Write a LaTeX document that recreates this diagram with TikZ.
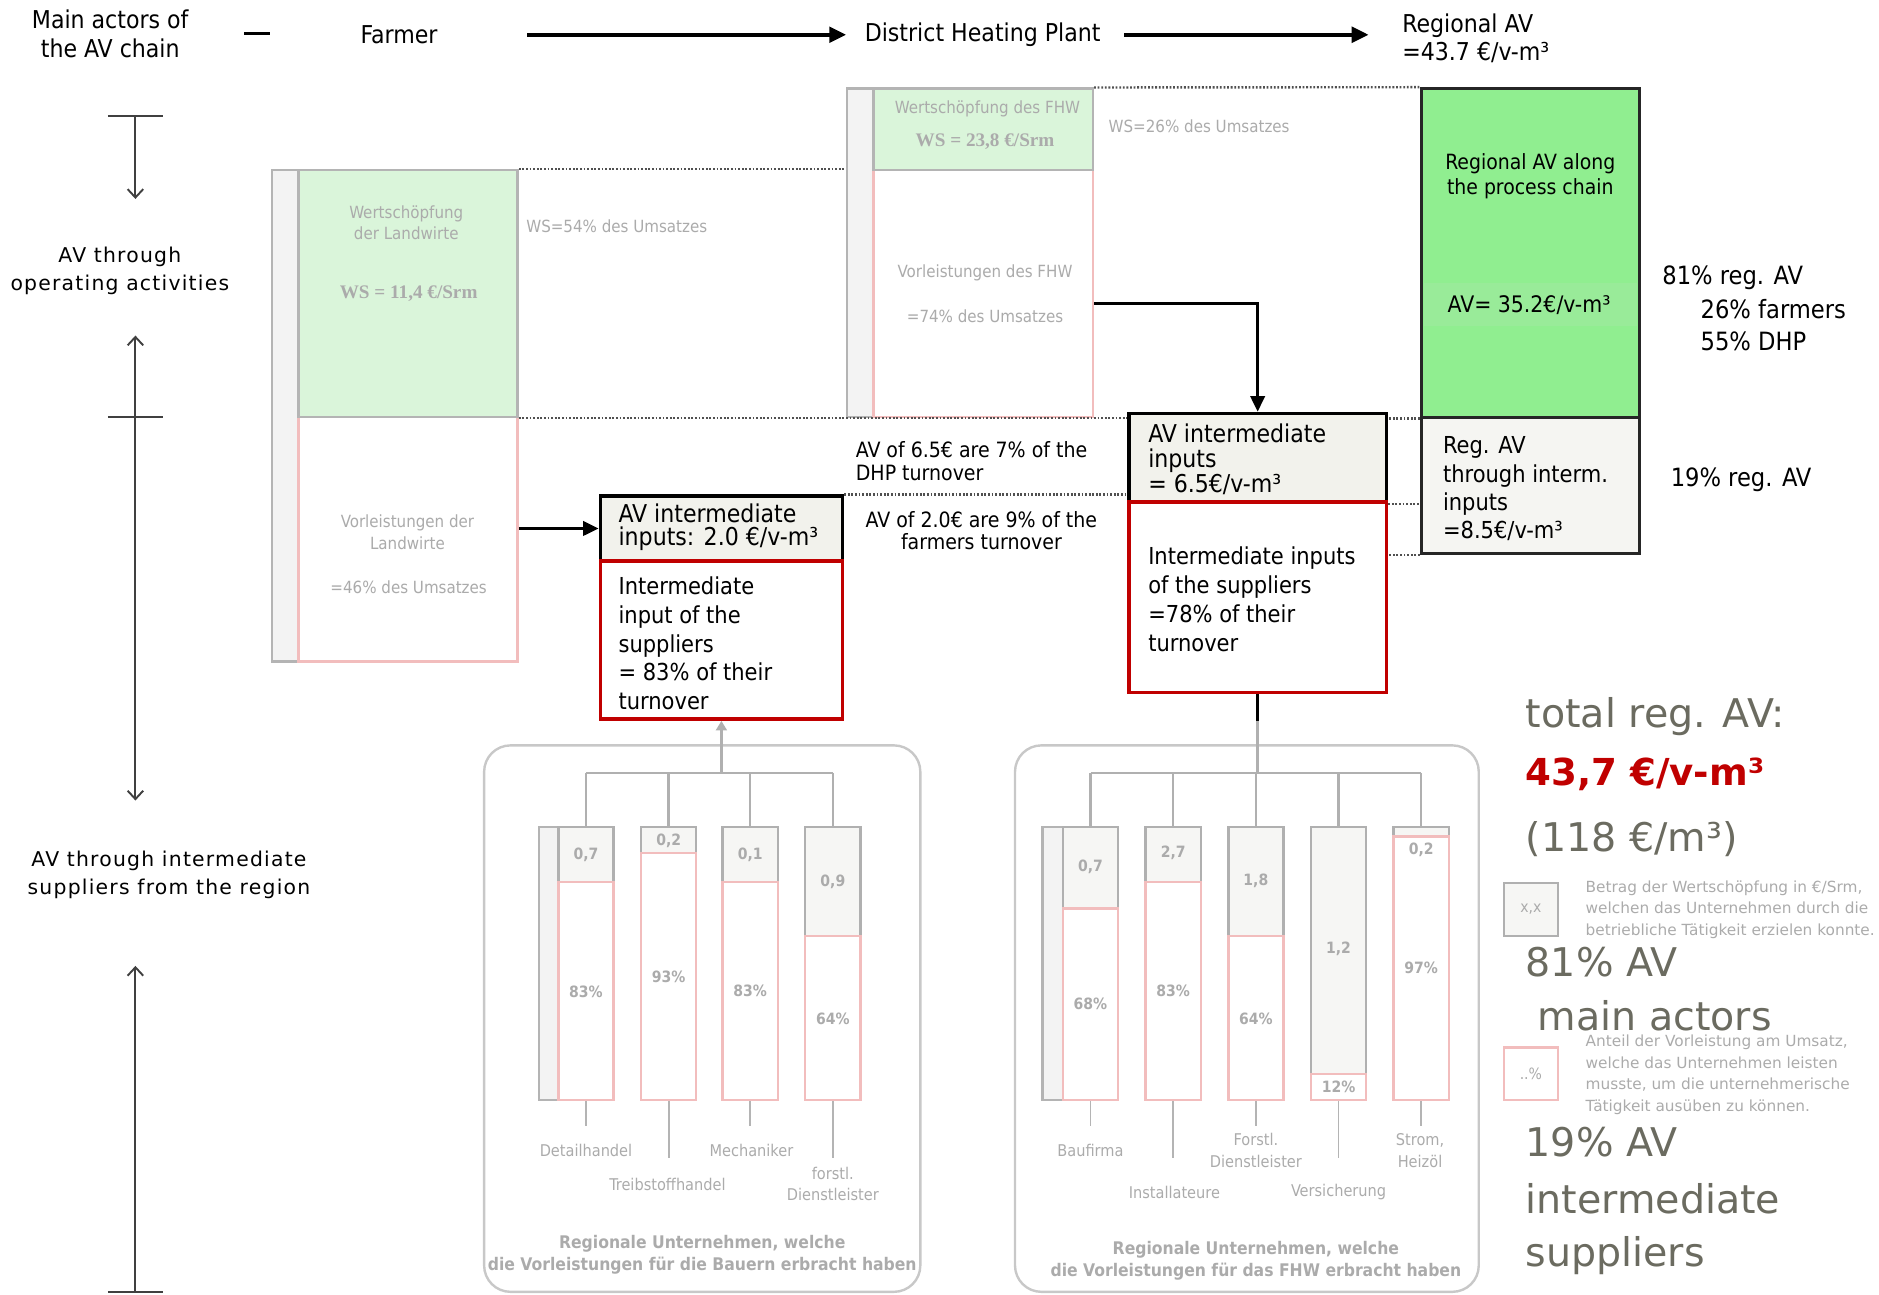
\documentclass[tikz,border=0pt]{standalone}
\usepackage{fontspec}
\setmainfont{DejaVu Sans}
\newfontfamily\condf{DejaVu Sans Condensed}
\newfontfamily\widef[LetterSpace=6]{DejaVu Sans}
\newfontfamily\serf{Liberation Serif}
\usetikzlibrary{arrows.meta,fit}
\newcommand{\myfs}[2]{\fontsize{#1}{#2}\selectfont}

\definecolor{fadetext}{HTML}{ABABAB}
\definecolor{fadeline}{HTML}{B4B4B4}
\definecolor{fadepink}{HTML}{F2BDBD}
\definecolor{palegreen}{HTML}{DAF5DA}
\definecolor{sliver}{HTML}{F3F3F3}
\definecolor{regreen}{HTML}{90EE90}
\definecolor{regband}{HTML}{99EB99}
\definecolor{boxfill}{HTML}{F2F2EC}
\definecolor{lowfill}{HTML}{F5F5F2}
\definecolor{darkred}{HTML}{C00000}
\definecolor{biggrey}{HTML}{6B6B60}
\definecolor{axisgrey}{HTML}{404040}
\definecolor{dotgrey}{HTML}{505050}
\definecolor{treegrey}{HTML}{B0B0B0}
\definecolor{panelgrey}{HTML}{C8C8C8}
\definecolor{barfill}{HTML}{F6F6F4}

\tikzset{
  every node/.style={inner sep=0pt},
  hdr/.style={font=\condf\myfs{20.5}{24}, align=center},
  lab/.style={font=\widef\myfs{17}{23}, align=center},
  fade/.style={text=fadetext, font=\condf\myfs{14}{18}, align=center},
  fadeb/.style={text=fadetext, font=\serf\bfseries\myfs{16}{18}},
  boxt/.style={font=\condf\myfs{19.5}{24}, align=left, anchor=west},
  midt/.style={font=\condf\myfs{17.6}{19}},
  pct/.style={font=\condf\myfs{21}{26}, anchor=west},
  big/.style={font=\myfs{33}{36}, text=biggrey, anchor=west},
  legt/.style={text=fadetext, font=\myfs{12.8}{18}, align=left, anchor=west},
  barnum/.style={text=fadetext, font=\condf\bfseries\myfs{13}{15}},
  barlab/.style={text=fadetext, font=\condf\myfs{13.5}{18}, align=center},
  capt/.style={text=fadetext, font=\condf\bfseries\myfs{14.5}{18}, align=center},
  greybox/.style={draw=fadeline, fill=sliver, line width=2pt},
  greenbox/.style={draw=fadeline, fill=palegreen, line width=2pt},
  pinkbox/.style={draw=fadepink, fill=white, line width=2pt},
  avbox/.style={draw=black, fill=boxfill, line width=3pt},
  redbox/.style={draw=darkred, fill=white, line width=3pt},
  regbox/.style={draw=black!85, fill=regreen, line width=2.5pt},
  reglow/.style={draw=black!85, fill=lowfill, line width=2.5pt},
  panel/.style={draw=panelgrey, line width=2pt, rounded corners=22pt},
  bartop/.style={draw=treegrey, fill=barfill, line width=2pt},
  barlow/.style={draw=fadepink, fill=white, line width=2pt},
  hdrarrow/.style={line width=3pt, -{Triangle[length=14pt,width=13pt]}},
  axis/.style={draw=axisgrey, line width=1.6pt},
  dotline/.style={draw=dotgrey, line width=2pt, dash pattern=on 1.5pt off 1.5pt},
  blkarrow/.style={line width=2.5pt, -{Triangle[length=13pt,width=12pt]}},
  tree/.style={draw=treegrey, line width=2pt},
  leader/.style={draw=fadeline, line width=1.5pt}
}

\begin{document}
\begin{tikzpicture}[x=1pt,y=-1pt]
\useasboundingbox (0,0) rectangle (1568,1080);

% ---------- header row ----------
\node[hdr] (mainact) at (92,28) {Main actors of\\the AV chain};
\node[hdr] (farmer) at (333,29) {Farmer};
\node[hdr] (dhp) at (820,29) {District Heating Plant};
\node[hdr, anchor=west, align=left] (regav) at (1170,32) {Regional AV\\=43.7 €/v-m³};
\coordinate (stubA) at (204,28);
\coordinate (stubB) at (225,28);
\draw[line width=3pt] (stubA) -- (stubB);
\draw[hdrarrow] (farmer.east -| 440,0) -- (farmer.east -| 706,0);
\draw[hdrarrow] (dhp.east -| 938,0) -- (dhp.east -| 1142,0);

% ---------- left axis ----------
\coordinate (ax1) at (113,97);
\coordinate (ax2) at (113,166);
\coordinate (ax3) at (113,280);
\coordinate (ax4) at (113,668);
\coordinate (ax5) at (113,806);
\coordinate (ax6) at (113,1078);
\draw[axis] (90,97) -- (136,97);
\draw[axis, -{Straight Barb[length=7pt,width=13pt]}] (ax1) -- (ax2);
\node[lab] (oplab) at (100,226) {AV through\\operating activities};
\draw[axis, {Straight Barb[length=7pt,width=13pt]}-{Straight Barb[length=7pt,width=13pt]}] (ax3) -- (ax4);
\draw[axis] (90,348) -- (136,348);
\node[lab] (suplab) at (141,730) {AV through intermediate\\suppliers from the region};
\draw[axis, {Straight Barb[length=7pt,width=13pt]}-] (ax5) -- (ax6);
\draw[axis] (90,1078) -- (136,1078);

% ---------- farmer block ----------
\node[greybox, fit={(227,142) (249,552)}] (fSliver) {};
\node[pinkbox, fit={(249,348) (432,552)}] (fPink) {};
\node[greenbox, fit={(249,142) (432,348)}] (fGreen) {};
\node[fade] (fWs) at (339,186) {Wertschöpfung\\der Landwirte};
\node[fadeb] (fWsv) at (341,245) {WS = 11,4 €/Srm};
\node[fade] (fVl) at (340,444) {Vorleistungen der\\Landwirte};
\node[fade] (fVlp) at (341,490) {=46\% des Umsatzes};
\node[fade, anchor=west] (fShare) at (439,189) {WS=54\% des Umsatzes};

% ---------- district heating plant block ----------
\node[greybox, fit={(707,74) (729,348)}] (dSliver) {};
\node[pinkbox, fit={(729,142) (912,348)}] (dPink) {};
\node[greenbox, fit={(729,74) (912,142)}] (dGreen) {};
\node[fade] (dWs) at (824,91) {Wertschöpfung des FHW};
\node[fadeb] (dWsv) at (822,118) {WS = 23,8 €/Srm};
\node[fade] (dVl) at (822,228) {Vorleistungen des FHW};
\node[fade] (dVlp) at (822,264) {=74\% des Umsatzes};
\node[fade, anchor=west] (dShare) at (925,105) {WS=26\% des Umsatzes};

% ---------- intermediate input boxes ----------
\node[avbox, fit={(501,414) (703,468)}] (i20) {};
\node[redbox, fit={(501,468) (703,600)}] (r20) {};
\node[boxt, font=\condf\myfs{20.5}{19}] (i20t) at (516,440) {AV intermediate\\inputs: 2.0 €/v-m³};
\node[boxt] (r20t) at (516,537) {Intermediate\\input of the\\suppliers\\= 83\% of their\\turnover};

\node[avbox, fit={(942,345) (1157,419)}] (i65) {};
\node[redbox, fit={(942,419) (1157,578)}] (r65) {};
\node[boxt, font=\condf\myfs{20.5}{21}] (i65t) at (958,383) {AV intermediate\\inputs\\= 6.5€/v-m³};
\node[boxt] (r65t) at (958,500) {Intermediate inputs\\of the suppliers\\=78\% of their\\turnover};

\node[midt, anchor=west, align=left] (dhpNote) at (714,385) {AV of 6.5€ are 7\% of the\\DHP turnover};
\node[midt, align=center, font=\condf\myfs{17.6}{18}] (farmNote) at (819,443) {AV of 2.0€ are 9\% of the\\farmers turnover};

% ---------- regional added value ----------
\node[regbox, fit={(1186,74) (1368,348)}] (regBox) {};
\fill[regband] (1188,236) rectangle (1366,272);
\node[font=\condf\myfs{17.5}{21}, align=center] (regAlong) at (1277,147) {Regional AV along\\the process chain};
\node[font=\condf\myfs{19}{21}] (regVal) at (1276,255) {AV= 35.2€/v-m³};
\node[reglow, fit={(1186,348) (1368,462)}] (regLow) {};
\node[boxt, font=\condf\myfs{19.5}{23.7}] (regLowt) at (1204,408) {Reg. AV\\through interm.\\inputs\\=8.5€/v-m³};

\node[pct] (p81) at (1387,232) {81\% reg. AV};
\node[pct] (p26) at (1419,258) {26\% farmers};
\node[pct] (p55) at (1419,285) {55\% DHP};
\node[pct] (p19) at (1394,400) {19\% reg. AV};

% ---------- dotted level lines ----------
\draw[dotline] (fGreen.north east) -- (fGreen.north east -| dSliver.west);
\draw[dotline] (fGreen.south east) -- (fGreen.south east -| i65.west);
\draw[dotline] (dGreen.north east) -- (regBox.north west);
\draw[dotline] (regBox.south west) -- (regBox.south west -| i65.east);
\draw[dotline] (i20.north east) -- (i20.north east -| i65.west);
\draw[dotline] (i65.south east) -- (i65.south east -| regLow.west);
\draw[dotline] (regLow.south west) -- (regLow.south west -| i65.east);

% ---------- flows into the intermediate boxes ----------
\draw[blkarrow] (fPink.east |- i20.west) -- (i20.west);
\draw[blkarrow] (dPink.east |- 0,253) -| (i65.north);

% ---------- supplier panel of the farmers ----------
\node[panel, fit={(404,622) (768,1078)}] (lPanel) {};
\node[greybox, fit={(450,690) (466,918)}] (lSliver) {};
\foreach \i/\cx/\gy/\num/\ny/\pc/\py in {1/489/736/{0,7}/713/83/828, 2/558/712/{0,2}/702/93/815, 3/626/736/{0,1}/713/83/827, 4/695/781/{0,9}/736/64/850} {
  \node[bartop, fit={(\cx-23,690) (\cx+23,\gy)}] (lt\i) {};
  \node[barlow, fit={(\cx-23,\gy) (\cx+23,918)}] (lb\i) {};
  \node[barnum] (ln\i) at (\cx,\ny) {\num};
  \node[barnum] (lp\i) at (\cx,\py) {\pc\%};
}
\coordinate (lStem) at (593,645);
\draw[tree, {Triangle[length=8pt,width=9pt]}-] (r20.south) -- (r20.south |- lStem);
\draw[tree] (lt1.north |- lStem) -- (lt4.north |- lStem);
\foreach \i in {1,...,4} { \draw[tree] (lt\i.north |- lStem) -- (lt\i.north); }
\node[barlab] (lL1) at (489,960) {Detailhandel};
\node[barlab] (lL2) at (557,988) {Treibstoffhandel};
\node[barlab] (lL3) at (627,960) {Mechaniker};
\node[barlab] (lL4) at (695,988) {forstl.\\Dienstleister};
\draw[leader] (lb1.south) -- (lb1.south |- 0,940);
\draw[leader] (lb2.south) -- (lb2.south |- 0,966);
\draw[leader] (lb3.south) -- (lb3.south |- 0,940);
\draw[leader] (lb4.south) -- (lb4.south |- 0,966);
\node[capt] (lCap) at (586,1047) {Regionale Unternehmen, welche\\die Vorleistungen für die Bauern erbracht haben};

% ---------- supplier panel of the heating plant ----------
\node[panel, fit={(847,622) (1234,1078)}] (rPanel) {};
\node[greybox, fit={(870,690) (887,918)}] (rSliver) {};
\foreach \i/\cx/\gy/\num/\ny/\pc/\py in {1/910/758/{0,7}/723/68/838, 2/979/736/{2,7}/712/83/827, 3/1048/781/{1,8}/735/64/850, 4/1117/896/{1,2}/792/12/907, 5/1186/698/{0,2}/709/97/808} {
  \node[bartop, fit={(\cx-23,690) (\cx+23,\gy)}] (rt\i) {};
  \node[barlow, fit={(\cx-23,\gy) (\cx+23,918)}] (rb\i) {};
  \node[barnum] (rn\i) at (\cx,\ny) {\num};
  \node[barnum] (rp\i) at (\cx,\py) {\pc\%};
}
\coordinate (rStem) at (1049,645);
\draw[line width=2.5pt] (r65.south) -- ++(0,22);
\draw[tree] ([yshift=-22pt]r65.south) -- (r65.south |- rStem);
\draw[tree] (rt1.north |- rStem) -- (rt5.north |- rStem);
\foreach \i in {1,...,5} { \draw[tree] (rt\i.north |- rStem) -- (rt\i.north); }
\node[barlab] (rL1) at (910,960) {Baufirma};
\node[barlab] (rL2) at (980,995) {Installateure};
\node[barlab] (rL3) at (1048,960) {Forstl.\\Dienstleister};
\node[barlab] (rL4) at (1117,995) {Versicherung};
\node[barlab] (rL5) at (1185,960) {Strom,\\Heizöl};
\draw[leader] (rb1.south) -- (rb1.south |- 0,940);
\draw[leader] (rb2.south) -- (rb2.south |- 0,966);
\draw[leader] (rb3.south) -- (rb3.south |- 0,940);
\draw[leader] (rb4.south) -- (rb4.south |- 0,966);
\draw[leader] (rb5.south) -- (rb5.south |- 0,940);
\node[capt] (rCap) at (1048,1052) {Regionale Unternehmen, welche\\die Vorleistungen für das FHW erbracht haben};

% ---------- totals and legend ----------
\node[big] (tTotal) at (1273,598) {total reg. AV:};
\node[big, text=darkred, font=\bfseries\myfs{31}{36}] (tVal) at (1273,646) {43,7 €/v-m³};
\node[big] (tM3) at (1273,700) {(118 €/m³)};
\node[bartop, fit={(1255,737) (1300,781)}] (legA) {};
\node[barnum, font=\condf\myfs{13}{15}] (legAt) at (legA.center) {x,x};
\node[legt] (legAx) at (1323,759) {Betrag der Wertschöpfung in €/Srm,\\welchen das Unternehmen durch die\\betriebliche Tätigkeit erzielen konnte.};
\node[big] (t81) at (1273,803) {81\% AV};
\node[big] (tMain) at (1283,848) {main actors};
\node[barlow, fit={(1255,874) (1300,918)}] (legB) {};
\node[barnum, font=\condf\myfs{13}{15}] (legBt) at (legB.center) {..\%};
\node[legt] (legBx) at (1323,897) {Anteil der Vorleistung am Umsatz,\\welche das Unternehmen leisten\\musste, um die unternehmerische\\Tätigkeit ausüben zu können.};
\node[big] (t19) at (1273,953) {19\% AV};
\node[big] (tInt) at (1273,1000) {intermediate};
\node[big] (tSup) at (1273,1048) {suppliers};
\end{tikzpicture}
\end{document}
